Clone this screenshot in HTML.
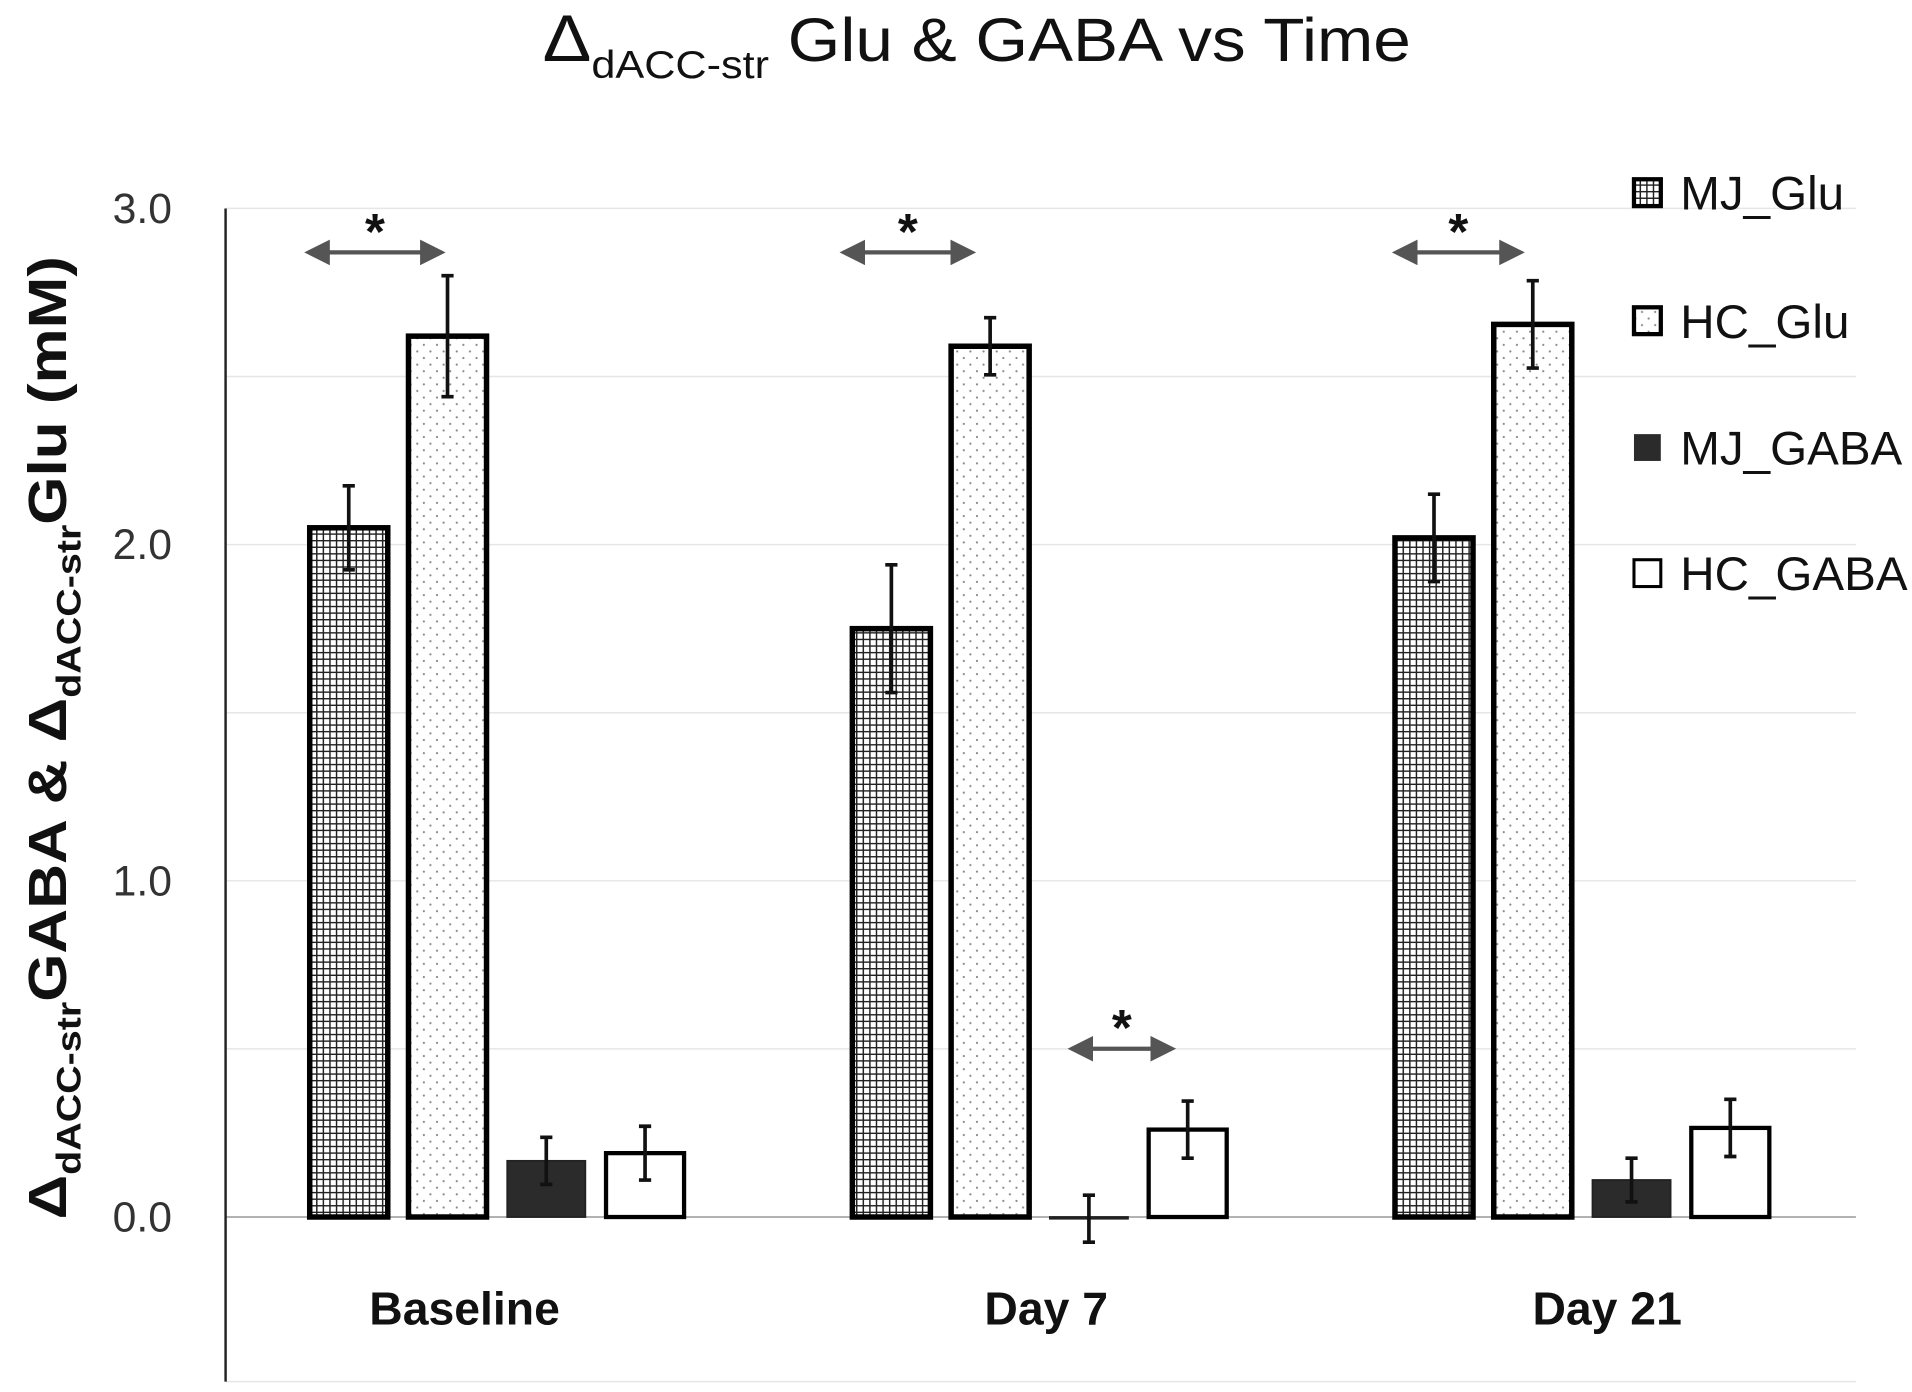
<!DOCTYPE html>
<html><head><meta charset="utf-8"><style>
html,body{margin:0;padding:0;background:#fff;}
svg{display:block;}
text{font-family:"Liberation Sans",sans-serif;}
</style></head><body>
<svg id="chart" width="1912" height="1392" viewBox="0 0 1568 1141.5" preserveAspectRatio="none" xmlns="http://www.w3.org/2000/svg">
<defs>
<pattern id="grid" width="5.4" height="5.4" patternUnits="userSpaceOnUse">
<rect width="5.4" height="5.4" fill="#fff"/>
<path d="M0 0H5.4M0 0V5.4" stroke="#222" stroke-width="2.4"/>
</pattern>
<pattern id="dots" width="10.8" height="10.8" patternUnits="userSpaceOnUse">
<rect width="10.8" height="10.8" fill="#fff"/>
<circle cx="2" cy="2" r="0.9" fill="#888"/>
<circle cx="7.4" cy="7.4" r="0.9" fill="#888"/>
</pattern>
<marker id="ah" markerWidth="6" markerHeight="6" refX="5" refY="3" orient="auto-start-reverse" markerUnits="strokeWidth">
<path d="M0 0L6 3L0 6z" fill="#555"/>
</marker>
</defs>
<text x="445" y="50" font-size="50" fill="#111" textLength="712" lengthAdjust="spacingAndGlyphs"><tspan font-size="54">Δ</tspan><tspan font-size="32" dy="14">dACC-str</tspan><tspan dy="-14"> Glu &amp; GABA vs Time</tspan></text>
<text transform="translate(54,605) rotate(-90)" text-anchor="middle" font-size="44" font-weight="bold" fill="#111" textLength="790" lengthAdjust="spacingAndGlyphs">Δ<tspan font-size="28" dy="12">dACC-str</tspan><tspan dy="-12">GABA &amp; Δ</tspan><tspan font-size="28" dy="12">dACC-str</tspan><tspan dy="-12">Glu (mM)</tspan></text>
<g id="grid-lines"></g>
<g id="bars"></g>
<g id="annot"></g>
<g id="legend"></g>
</svg>
<script>
const categories = ["Baseline", "Day 7", "Day 21"];
const seriesNames = ["MJ_Glu", "HC_Glu", "MJ_GABA", "HC_GABA"];
const mjGlu = [2.05, 1.75, 2.02];
const hcGlu = [2.62, 2.59, 2.655];
const mjGaba = [0.167, -0.005, 0.11];
const hcGaba = [0.19, 0.26, 0.265];
const mjGluErr = [0.125, 0.19, 0.13];
const hcGluErr = [0.18, 0.085, 0.13];
const mjGabaErr = [0.07, 0.07, 0.065];
const hcGabaErr = [0.08, 0.085, 0.085];
const yTicks = [0, 1, 2, 3];
const yTickLabels = ["0.0", "1.0", "2.0", "3.0"];
const gridValues = [0.5, 1, 1.5, 2, 2.5, 3];

const NS = "http://www.w3.org/2000/svg";
function mk(tag, attrs, parent){const e=document.createElementNS(NS,tag);for(const k in attrs)e.setAttribute(k,attrs[k]);parent.appendChild(e);return e;}
const y = v => 998 - v * 275.7;
const groupX = i => 254 + i * 445;
const barX = (i, s) => groupX(i) + s * 81;
const barW = 64;
const labelOffset = [127, 159, 174];

const gg = document.getElementById('grid-lines');
gridValues.forEach(v=>{
  const l = mk('line',{x1:185,x2:1522,y1:y(v),y2:y(v),stroke:'#e6e6e6','stroke-width':1.2},gg);
  
  
});
let bl = mk('line',{x1:185,x2:1522,y1:1133,y2:1133,stroke:'#e6e6e6','stroke-width':1.2},gg);


let zl = mk('line',{x1:185,x2:1522,y1:y(0),y2:y(0),stroke:'#999','stroke-width':1.3},gg);


let ax = mk('line',{x1:185,x2:185,y1:171,y2:1133,stroke:'#222','stroke-width':2},gg);


yTicks.forEach((v,i)=>{
  const t = mk('text',{x:141,y:y(v)+12,'text-anchor':'end','font-size':35,fill:'#333'},gg);
  t.textContent = yTickLabels[i];
  
  
});
categories.forEach((c,i)=>{
  const t = mk('text',{x:groupX(i)+labelOffset[i],y:1086,'text-anchor':'middle','font-size':38,'font-weight':'bold',fill:'#111'},gg);
  t.textContent = c;
  
  
});

const series = [mjGlu, hcGlu, mjGaba, hcGaba];
const errs = [mjGluErr, hcGluErr, mjGabaErr, hcGabaErr];
const fills = ['url(#grid)','url(#dots)','#2b2b2b','#fff'];
const strokeW = [4.5,4.5,1.5,3.5];
const bg = document.getElementById('bars');
series.forEach((vals,s)=>{
  vals.forEach((v,i)=>{
    const top = Math.min(y(v), y(0)), h = Math.abs(y(v)-y(0));
    const r = mk('rect',{x:barX(i,s),y:top,width:barW,height:Math.max(h,0.5),fill:fills[s],stroke:s===2?'#222':'#000','stroke-width':strokeW[s]},bg);
    
    
    const cx = barX(i,s)+barW/2, e = errs[s][i];
    const eb = mk('path',{d:`M${cx} ${y(v+e)}V${y(v-e)}M${cx-5} ${y(v+e)}H${cx+5}M${cx-5} ${y(v-e)}H${cx+5}`,stroke:'#111','stroke-width':3,fill:'none'},bg);
    
    
  });
});

const an = document.getElementById('annot');
const sig = [[0,0,-4,1,30,207],[1,0,-10,1,20,207],[2,0,-2,1,25,207],[1,2,15,3,22,860]];
sig.forEach(([g,a,da,b,db,yy])=>{
  const x1 = barX(g,a)+da, x2 = barX(g,b)+db;
  const ln = mk('line',{x1:x1+3,x2:x2-3,y1:yy,y2:yy,stroke:'#555','stroke-width':3.5,'marker-start':'url(#ah)','marker-end':'url(#ah)'},an);
  
  
  const st = mk('text',{x:(x1+x2)/2,y:yy-3,'text-anchor':'middle','font-size':42,'font-weight':'bold',fill:'#111'},an);
  st.textContent='*';
  
  
});

const lg = document.getElementById('legend');
const legY = [158,263,367,470];
seriesNames.forEach((n,s)=>{
  const sw = mk('rect',{x:1340,y:legY[s]-11,width:22,height:22,fill:fills[s],stroke:s===2?'none':'#000','stroke-width':s===3?2.5:3.5},lg);
  
  
  const t = mk('text',{x:1378,y:legY[s]+14,'font-size':39,fill:'#111'},lg);
  t.textContent = n;
  
  
});
</script>
</body></html>
